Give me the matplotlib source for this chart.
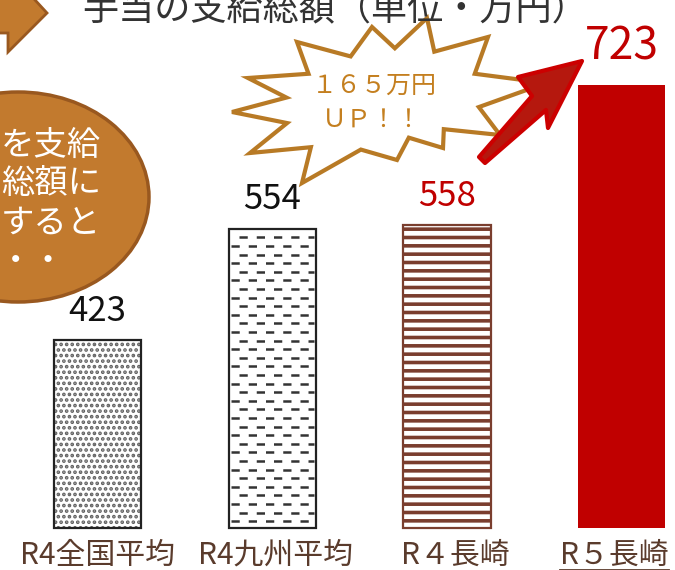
import numpy as np
import matplotlib.pyplot as plt
import matplotlib.transforms as mtransforms
from matplotlib.patches import Polygon, Ellipse

plt.rcParams['font.family'] = ['Noto Sans CJK JP', 'DejaVu Sans']
plt.rcParams['hatch.linewidth'] = 2.6

# Data
categories = ["R4全国平均", "R4九州平均", "R４長崎", "R５長崎"]
values = [423, 554, 558, 723]
label_colors = ["#111111", "#111111", "#c00000", "#c00000"]
title = "手当の支給総額（単位・万円）"
bubble_lines = ["を支給", "総額に", "すると", "・・"]
burst_lines = ["１６５万円", "ＵＰ！！"]

BASE = 202          # value at the bottom of the bars
PX_PER_UNIT = 0.8503

fig = plt.figure(figsize=(6.75, 5.7), dpi=100)

# bar axes: px 0..540 from the top
ax = fig.add_axes([0, 30 / 570, 1, 540 / 570])
ax.set_ylim(BASE - 12 / PX_PER_UNIT, BASE + 528 / PX_PER_UNIT)
ax.set_xlim(-97.5 / 174.7, (675 - 97.5) / 174.7)
for s in ax.spines.values():
    s.set_visible(False)
ax.set_yticks([])

x = np.arange(len(categories))
heights = [v - BASE for v in values]
bars = ax.bar(x, heights, bottom=BASE, width=0.5)

# bar 1: dotted
bars[0].set_facecolor("white")
bars[0].set_edgecolor("#222222")
bars[0].set_linewidth(1.6)
bars[0].set_hatch("...")
# bar 2: dashed lines (drawn below)
bars[1].set_facecolor("white")
bars[1].set_edgecolor("#222222")
bars[1].set_linewidth(1.6)
# bar 3: brown stripes
bars[2].set_facecolor("white")
bars[2].set_edgecolor("#7a3e2e")
bars[2].set_linewidth(1.6)
bars[2].set_hatch("--")
# bar 4: solid red
bars[3].set_facecolor("#c00000")
bars[3].set_edgecolor("#c00000")
bars[3].set_linewidth(0)

bars[0]._hatch_color = (0.38, 0.38, 0.38, 1.0)
bars[2]._hatch_color = (0.48, 0.24, 0.18, 1.0)
try:
    bars[0].set_hatch_linewidth(1.8)
except AttributeError:
    pass

# dashes inside bar 2
b = bars[1]
step = 8.6 / PX_PER_UNIT
yy = np.arange(b.get_y() + step * 0.8, b.get_y() + b.get_height() - 3, step)
for i, y in enumerate(yy):
    shift = 0.0 if i % 2 == 0 else 0.05
    ax.hlines(y, b.get_x() + 0.012 + shift, b.get_x() + b.get_width() - 0.01,
              colors="#333333", linewidth=1.8, linestyles=(0, (3.3, 3.6)))

# value labels
for i, (v, c) in enumerate(zip(values, label_colors)):
    big = i == 3
    ax.annotate(str(v), (x[i], v), xytext=(0, 18 if big else 14),
                textcoords="offset points", ha="center", va="baseline",
                fontsize=32 if big else 25, color=c)

# category labels
ax.set_xticks(x)
ax.set_xticklabels(categories, fontsize=21.5, color="#5a3b2c")
ax.tick_params(axis="x", length=0, pad=0)
nudges = [0, 3, 8, -7]
for lab, dx in zip(ax.get_xticklabels(), nudges):
    lab.set_transform(lab.get_transform() +
                      mtransforms.ScaledTranslation(dx / 100, 0,
                                                    fig.dpi_scale_trans))

# overlay in pixel coordinates
ov = fig.add_axes([0, 0, 1, 1], zorder=5)
ov.set_xlim(0, 675)
ov.set_ylim(570, 0)
ov.axis("off")
ov.patch.set_alpha(0)

ov.text(335, 20, title, ha="center", va="baseline", fontsize=26,
        color="#333333")

# block arrow at the top left
ov.add_patch(Polygon([(-10, -10), (12, -10), (12, -25), (47, 13), (8, 52),
                      (8, 33), (-10, 33)], closed=True,
                     facecolor="#c27a2e", edgecolor="#99581f", lw=2))
# speech ellipse
ov.add_patch(Ellipse((18, 197), 262, 210, facecolor="#c27a2e",
                     edgecolor="#99581f", lw=2.5))
for i, line in enumerate(bubble_lines):
    right = 66 if i == 3 else 101
    ov.text(right, 145 + 39 * i, line, ha="right", va="center", fontsize=24,
            color="white")

# starburst
tips = np.array([(297, 42), (372, 27), (427, 18), (488, 37), (546, 83),
                 (500, 135), (443, 148), (397, 160), (302, 183), (250, 153),
                 (232, 112), (248, 78)], dtype=float)
cen = np.array([385, 103])
pts = []
for i in range(len(tips)):
    a, b2 = tips[i], tips[(i + 1) % len(tips)]
    mid = (a + b2) / 2
    pts.append(a)
    pts.append(cen + (mid - cen) * 0.68)
ov.add_patch(Polygon(pts, closed=True, facecolor="white", edgecolor="#b87a25",
                     lw=3, joinstyle="miter"))
ov.text(374, 86, burst_lines[0], ha="center", va="center", fontsize=18,
        color="#c47f1f")
ov.text(372, 121, burst_lines[1], ha="center", va="center", fontsize=18,
        color="#c47f1f")

# red arrow
ov.add_patch(Polygon([(479, 157), (532, 96), (518, 77), (582, 61), (548, 128),
                      (546, 110), (485, 163)], closed=True,
                     facecolor="#b5180e", edgecolor="#cc0000", lw=3,
                     joinstyle="round"))

fig.canvas.draw()
# underline the last category
lab = ax.get_xticklabels()[3]
bb = lab.get_window_extent().transformed(ov.transData.inverted())
ov.plot([bb.x0, bb.x1], [bb.y0 - 1, bb.y0 - 1], color="#5a3b2c", lw=1.3)

fig.savefig("out.png", dpi=100)
